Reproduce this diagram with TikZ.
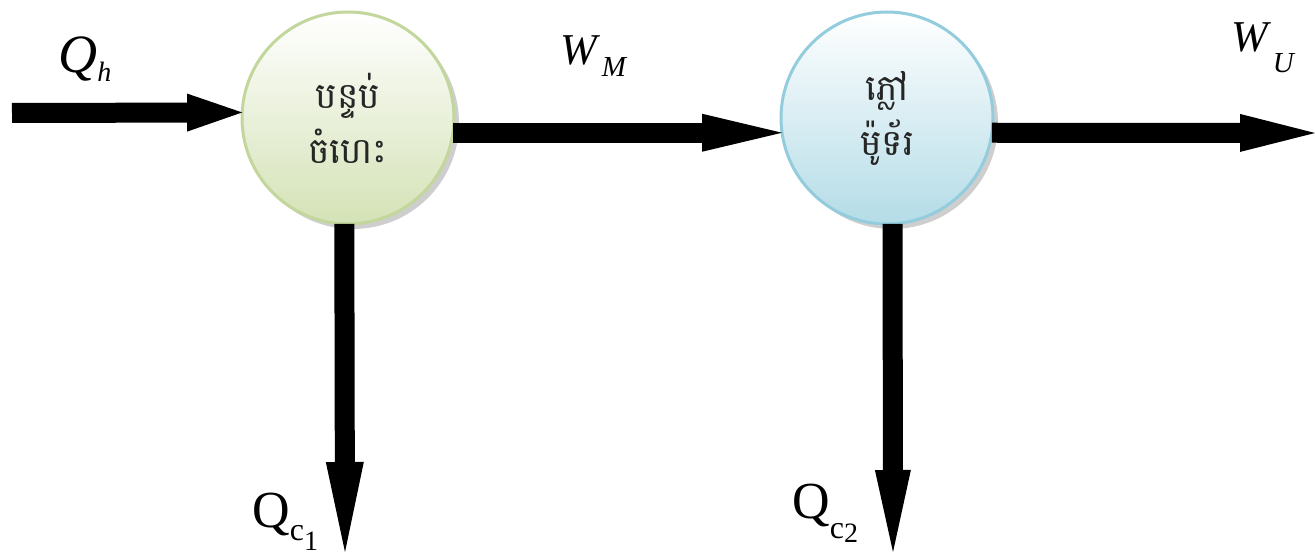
\documentclass[tikz,border=0pt]{standalone}
\usepackage{fontspec}
\setmainfont{Liberation Serif}
\newfontfamily\khmer[Script=Khmer]{Battambang}
\usetikzlibrary{arrows.meta,shadows}
\newcommand\lowr[3]{\raisebox{-#1}{\fontsize{#2}{#2}\selectfont #3}}
\definecolor{grnfill}{HTML}{D4E2B6}
\definecolor{grnline}{HTML}{C3D69B}
\definecolor{blufill}{HTML}{B4DCE7}
\definecolor{bluline}{HTML}{93CDDD}
\begin{document}
\begin{tikzpicture}[x=0.5pt,y=-0.5pt,
  flow/.style={line width=10pt},
  proc/.style={circle, inner sep=0pt, outer sep=0pt, minimum size=106pt,
    line width=1.5pt, align=center, text=black!85,
    font=\khmer\fontsize{18}{27.5}\selectfont,
    drop shadow={shadow xshift=2.5pt, shadow yshift=-2.5pt, opacity=0.35, fill=black!55}},
  greenproc/.style={proc, draw=grnline, top color=white, bottom color=grnfill},
  blueproc/.style={proc, draw=bluline, top color=white, bottom color=blufill},
  lbl/.style={anchor=base west, inner sep=0pt}
]
\useasboundingbox (0,0) rectangle (1315,555);

\node[greenproc] (c1) at (348,118) {បន្ទប់\\ចំហេះ};
\node[blueproc] (c2) at (887,118) {ភ្លៅ\\ម៉ូទ័រ};

\coordinate (qhs) at (12,113);
\coordinate (wue) at (1315,133);
\coordinate (qc1e) at (345,552);
\coordinate (qc2e) at (893,552);

\draw[flow, -{Triangle[length=27.5pt,width=19pt,line width=0pt]}] (qhs) -- (c1.177);
\draw[flow, -{Triangle[length=40pt,width=19pt,line width=0pt]}] (c1.-8) -- (c2.188);
\draw[flow, -{Triangle[length=37.5pt,width=19pt,line width=0pt]}] (c2.-8) -- (wue);
\draw[flow, -{Triangle[length=45pt,width=19pt,line width=0pt]}] (c1.268) -- (qc1e);
\draw[flow, -{Triangle[length=41pt,width=18pt,line width=0pt]}] (c2.273) -- (qc2e);

\node[lbl] (lqh) at (58,73) {\fontsize{27}{27}\selectfont\itshape Q\lowr{4.5pt}{14}{h}};
\node[lbl] (lwm) at (560,65) {\fontsize{22}{22}\selectfont\itshape W\lowr{6pt}{14.5}{\,M}};
\node[lbl] (lwu) at (1231,52) {\fontsize{22}{22}\selectfont\itshape W\lowr{10.5pt}{14.5}{\,U}};
\node[lbl] (lqc1) at (252,527) {\fontsize{26}{26}\selectfont Q\lowr{6.5pt}{16}{c\lowr{5pt}{14}{1}}};
\node[lbl] (lqc2) at (792,518) {\fontsize{26}{26}\selectfont Q\lowr{10pt}{16}{c\lowr{2pt}{14}{2}}};
\end{tikzpicture}
\end{document}
